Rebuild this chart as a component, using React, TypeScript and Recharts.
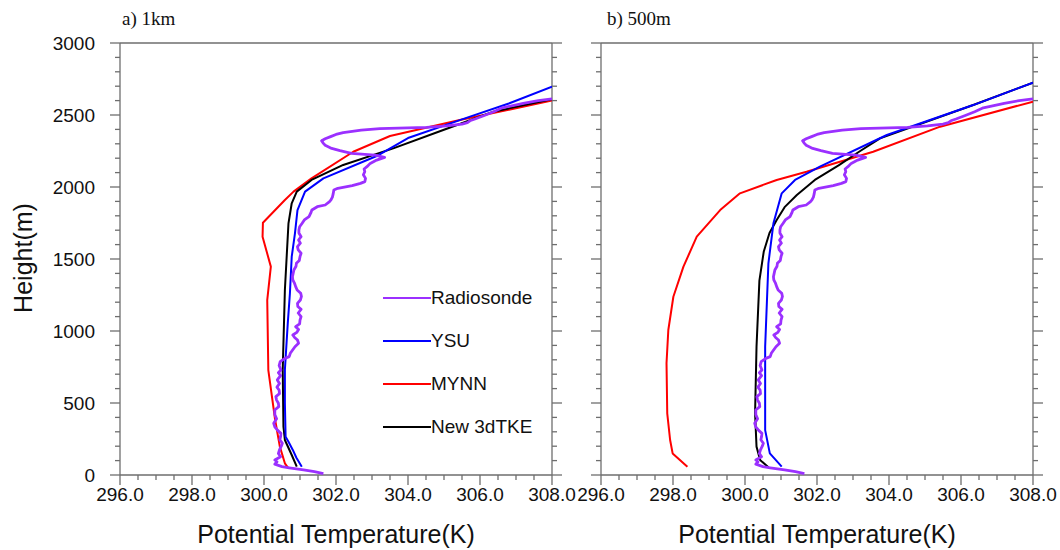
import { ScatterChart, Scatter, XAxis, YAxis, Legend } from "recharts";

const AXIS = "#6e6e6e";
const SANS = '"Liberation Sans", Arial, Helvetica, sans-serif';
const SERIF = '"Liberation Serif", "Times New Roman", serif';

const PURPLE = "#9b30ff";
const BLUE = "#0000ff";
const RED = "#ff0000";
const BLACK = "#000000";

const NAMES = ["Radiosonde", "YSU", "MYNN", "New 3dTKE"];

const X_TICKS = [
  296, 296.5, 297, 297.5, 298, 298.5, 299, 299.5, 300, 300.5, 301, 301.5, 302,
  302.5, 303, 303.5, 304, 304.5, 305, 305.5, 306, 306.5, 307, 307.5, 308,
];
const Y_TICKS = [
  0, 100, 200, 300, 400, 500, 600, 700, 800, 900, 1000, 1100, 1200, 1300, 1400,
  1500, 1600, 1700, 1800, 1900, 2000, 2100, 2200, 2300, 2400, 2500, 2600, 2700,
  2800, 2900, 3000,
];

// radiosonde profile (height m, potential temperature K)
const SONDE = [
  { h: 10, t: 301.65 }, { h: 23, t: 301.4 }, { h: 35, t: 301.1 },
  { h: 50, t: 300.7 }, { h: 58, t: 300.5 }, { h: 75, t: 300.3 },
  { h: 92, t: 300.36 }, { h: 104, t: 300.3 }, { h: 127, t: 300.46 },
  { h: 150, t: 300.4 }, { h: 174, t: 300.43 }, { h: 200, t: 300.48 },
  { h: 220, t: 300.51 }, { h: 245, t: 300.44 }, { h: 266, t: 300.46 },
  { h: 289, t: 300.47 }, { h: 310, t: 300.38 }, { h: 335, t: 300.3 },
  { h: 359, t: 300.27 }, { h: 390, t: 300.35 }, { h: 420, t: 300.3 },
  { h: 451, t: 300.3 }, { h: 475, t: 300.41 }, { h: 498, t: 300.4 },
  { h: 520, t: 300.35 }, { h: 544, t: 300.33 }, { h: 565, t: 300.43 },
  { h: 590, t: 300.42 }, { h: 610, t: 300.36 }, { h: 635, t: 300.43 },
  { h: 660, t: 300.37 }, { h: 690, t: 300.46 }, { h: 710, t: 300.4 },
  { h: 729, t: 300.47 }, { h: 760, t: 300.42 }, { h: 787, t: 300.45 },
  { h: 800, t: 300.52 }, { h: 810, t: 300.58 }, { h: 822, t: 300.7 },
  { h: 845, t: 300.73 }, { h: 870, t: 300.8 }, { h: 891, t: 300.86 },
  { h: 915, t: 300.96 }, { h: 937, t: 300.93 }, { h: 955, t: 300.85 },
  { h: 972, t: 300.8 }, { h: 990, t: 300.91 }, { h: 1010, t: 300.96 },
  { h: 1030, t: 300.88 }, { h: 1050, t: 300.99 }, { h: 1075, t: 301.0 },
  { h: 1100, t: 301.03 }, { h: 1125, t: 300.95 }, { h: 1150, t: 301.03 },
  { h: 1170, t: 300.94 }, { h: 1192, t: 300.93 }, { h: 1215, t: 301.01 },
  { h: 1240, t: 301.04 }, { h: 1262, t: 301.02 }, { h: 1285, t: 300.92 },
  { h: 1308, t: 300.88 }, { h: 1330, t: 300.85 }, { h: 1355, t: 300.8 },
  { h: 1377, t: 300.79 }, { h: 1400, t: 300.81 }, { h: 1424, t: 300.83 },
  { h: 1450, t: 300.89 }, { h: 1470, t: 300.9 }, { h: 1490, t: 300.98 },
  { h: 1516, t: 301.0 }, { h: 1540, t: 301.03 }, { h: 1563, t: 300.95 },
  { h: 1586, t: 300.93 }, { h: 1610, t: 301.01 }, { h: 1632, t: 300.96 },
  { h: 1655, t: 301.03 }, { h: 1680, t: 300.97 }, { h: 1701, t: 300.97 },
  { h: 1724, t: 300.99 }, { h: 1748, t: 301.06 }, { h: 1771, t: 301.12 },
  { h: 1794, t: 301.25 }, { h: 1820, t: 301.3 }, { h: 1840, t: 301.33 },
  { h: 1863, t: 301.48 }, { h: 1875, t: 301.7 }, { h: 1898, t: 301.82 },
  { h: 1910, t: 301.86 }, { h: 1930, t: 301.9 }, { h: 1950, t: 301.92 },
  { h: 1979, t: 301.94 }, { h: 1991, t: 302.05 }, { h: 2010, t: 302.45 },
  { h: 2025, t: 302.68 }, { h: 2037, t: 302.8 }, { h: 2060, t: 302.82 },
  { h: 2085, t: 302.76 }, { h: 2106, t: 302.8 }, { h: 2125, t: 302.78 },
  { h: 2141, t: 302.86 }, { h: 2164, t: 302.95 }, { h: 2187, t: 303.13 },
  { h: 2206, t: 303.35 }, { h: 2215, t: 303.2 }, { h: 2222, t: 303.08 },
  { h: 2234, t: 302.43 }, { h: 2252, t: 302.11 }, { h: 2268, t: 301.88 },
  { h: 2290, t: 301.7 }, { h: 2303, t: 301.65 }, { h: 2321, t: 301.6 },
  { h: 2335, t: 301.7 }, { h: 2350, t: 301.85 }, { h: 2365, t: 302.0 },
  { h: 2378, t: 302.2 }, { h: 2395, t: 302.7 }, { h: 2406, t: 303.22 },
  { h: 2414, t: 304.52 }, { h: 2424, t: 305.07 }, { h: 2436, t: 305.5 },
  { h: 2447, t: 305.65 }, { h: 2460, t: 305.72 }, { h: 2472, t: 305.86 },
  { h: 2495, t: 306.1 }, { h: 2523, t: 306.38 }, { h: 2550, t: 306.62 },
  { h: 2581, t: 307.2 }, { h: 2600, t: 307.62 }, { h: 2612, t: 308.0 },
];

// a) 1km run
const YSU_1KM = [
  { h: 58, t: 301.05 }, { h: 120, t: 300.9 }, { h: 174, t: 300.8 },
  { h: 231, t: 300.68 }, { h: 266, t: 300.6 }, { h: 500, t: 300.58 },
  { h: 729, t: 300.58 }, { h: 1053, t: 300.66 }, { h: 1262, t: 300.72 },
  { h: 1516, t: 300.77 }, { h: 1678, t: 300.86 }, { h: 1840, t: 300.93 },
  { h: 1968, t: 301.14 }, { h: 2060, t: 301.65 }, { h: 2215, t: 303.13 },
  { h: 2340, t: 304.0 }, { h: 2470, t: 305.5 }, { h: 2580, t: 306.8 },
  { h: 2697, t: 308.0 },
];
const MYNN_1KM = [
  { h: 46, t: 300.68 }, { h: 81, t: 300.58 }, { h: 197, t: 300.44 },
  { h: 382, t: 300.31 }, { h: 729, t: 300.12 }, { h: 1215, t: 300.09 },
  { h: 1447, t: 300.19 }, { h: 1655, t: 299.96 }, { h: 1752, t: 299.97 },
  { h: 1910, t: 300.58 }, { h: 1968, t: 300.82 }, { h: 2060, t: 301.32 },
  { h: 2245, t: 302.48 }, { h: 2354, t: 303.5 }, { h: 2465, t: 305.44 },
  { h: 2600, t: 308.0 },
];
const TKE_1KM = [
  { h: 58, t: 300.91 }, { h: 139, t: 300.77 }, { h: 243, t: 300.58 },
  { h: 335, t: 300.54 }, { h: 729, t: 300.52 }, { h: 1285, t: 300.58 },
  { h: 1748, t: 300.68 }, { h: 1887, t: 300.77 }, { h: 1968, t: 300.91 },
  { h: 2049, t: 301.32 }, { h: 2153, t: 302.2 }, { h: 2268, t: 303.59 },
  { h: 2396, t: 304.98 }, { h: 2523, t: 306.37 }, { h: 2609, t: 308.0 },
];

// b) 500m run
const YSU_500M = [
  { h: 58, t: 301.02 }, { h: 150, t: 300.69 }, { h: 312, t: 300.56 },
  { h: 891, t: 300.56 }, { h: 1470, t: 300.65 }, { h: 1748, t: 300.79 },
  { h: 1956, t: 301.02 }, { h: 2049, t: 301.39 }, { h: 2141, t: 302.08 },
  { h: 2361, t: 303.94 }, { h: 2569, t: 306.34 }, { h: 2725, t: 308.0 },
];
const MYNN_500M = [
  { h: 58, t: 298.4 }, { h: 150, t: 297.99 }, { h: 243, t: 297.92 },
  { h: 428, t: 297.84 }, { h: 776, t: 297.82 }, { h: 1007, t: 297.87 },
  { h: 1238, t: 298.01 }, { h: 1447, t: 298.29 }, { h: 1655, t: 298.66 },
  { h: 1840, t: 299.31 }, { h: 1956, t: 299.86 }, { h: 2049, t: 300.88 },
  { h: 2106, t: 301.71 }, { h: 2245, t: 303.56 }, { h: 2419, t: 305.42 },
  { h: 2593, t: 308.0 },
];
const TKE_500M = [
  { h: 53, t: 300.65 }, { h: 104, t: 300.42 }, { h: 197, t: 300.32 },
  { h: 428, t: 300.28 }, { h: 891, t: 300.32 }, { h: 1350, t: 300.4 },
  { h: 1550, t: 300.52 }, { h: 1680, t: 300.68 }, { h: 1771, t: 300.88 },
  { h: 1860, t: 301.1 }, { h: 1944, t: 301.44 }, { h: 2049, t: 301.94 },
  { h: 2150, t: 302.6 }, { h: 2250, t: 303.2 }, { h: 2338, t: 303.75 },
  { h: 2569, t: 306.34 }, { h: 2725, t: 308.0 },
];

const noDot = () => <g />;

function BottomTick({ x, y, payload }: any) {
  const v = payload.value as number;
  const major = v % 2 === 0;
  return (
    <g>
      <line x1={x} x2={x} y1={y} y2={y + (major ? 10 : 5)} stroke={AXIS} strokeWidth={1.3} />
      {major && (
        <text x={x} y={y + 26} textAnchor="middle" fontSize={19} fontFamily={SANS} fill="#111">
          {v.toFixed(1)}
        </text>
      )}
    </g>
  );
}

function TopTick({ x, y, payload }: any) {
  const major = (payload.value as number) % 2 === 0;
  return <line x1={x} x2={x} y1={y} y2={y - (major ? 10 : 5)} stroke={AXIS} strokeWidth={1.3} />;
}

function makeLeftTick(labels: boolean) {
  return ({ x, y, payload }: any) => {
    const v = payload.value as number;
    const major = v % 500 === 0;
    return (
      <g>
        <line x1={x} x2={x - (major ? 10 : 5)} y1={y} y2={y} stroke={AXIS} strokeWidth={1.3} />
        {labels && major && (
          <text x={x - 25} y={y} dy="0.36em" textAnchor="end" fontSize={19} fontFamily={SANS} fill="#111">
            {v}
          </text>
        )}
      </g>
    );
  };
}

function RightTick({ x, y, payload }: any) {
  const major = (payload.value as number) % 500 === 0;
  return <line x1={x} x2={x + (major ? 10 : 5)} y1={y} y2={y} stroke={AXIS} strokeWidth={1.3} />;
}

function LegendBox({ payload }: any) {
  const items = [...(payload ?? [])].sort(
    (a: any, b: any) => NAMES.indexOf(a.value) - NAMES.indexOf(b.value)
  );
  return (
    <div>
      {items.map((it: any) => (
        <div key={it.value} style={{ display: "flex", alignItems: "center", height: 43 }}>
          <svg width={48} height={4} style={{ display: "block" }}>
            <line x1={0} x2={48} y1={2} y2={2} stroke={it.color} strokeWidth={2} />
          </svg>
          <span style={{ fontFamily: SANS, fontSize: 19, color: "#111", lineHeight: "19px" }}>
            {it.value}
          </span>
        </div>
      ))}
    </div>
  );
}

interface PanelProps {
  left: number;
  width: number;
  yWidth: number;
  title: string;
  titleDx: number;
  first: boolean;
  ysu: { h: number; t: number }[];
  mynn: { h: number; t: number }[];
  tke: { h: number; t: number }[];
}

function Panel({ left, width, yWidth, title, titleDx, first, ysu, mynn, tke }: PanelProps) {
  return (
    <div style={{ position: "absolute", left, top: 0 }}>
      <ScatterChart width={width} height={550} margin={{ top: 30, right: 0, bottom: 0, left: 0 }}>
        <XAxis
          xAxisId="b"
          type="number"
          dataKey="t"
          domain={[296, 308]}
          ticks={X_TICKS}
          interval={0}
          allowDataOverflow
          height={75}
          tickSize={0}
          tickMargin={0}
          axisLine={{ stroke: AXIS, strokeWidth: 1.3 }}
          tick={BottomTick}
          label={() => (
            <text
              x={yWidth + 216}
              y={543}
              textAnchor="middle"
              fontSize={25}
              fontFamily={SANS}
              fill="#111"
            >
              Potential Temperature(K)
            </text>
          )}
        />
        <XAxis
          xAxisId="t"
          orientation="top"
          type="number"
          domain={[296, 308]}
          ticks={X_TICKS}
          interval={0}
          allowDataOverflow
          height={13}
          tickSize={0}
          tickMargin={0}
          axisLine={{ stroke: AXIS, strokeWidth: 1.3 }}
          tick={TopTick}
          label={() => (
            <text x={yWidth + titleDx} y={25} fontSize={19} fontFamily={SERIF} fill="#111">
              {title}
            </text>
          )}
        />
        <YAxis
          yAxisId="l"
          type="number"
          dataKey="h"
          domain={[0, 3000]}
          ticks={Y_TICKS}
          interval={0}
          allowDataOverflow
          width={yWidth}
          tickSize={0}
          tickMargin={0}
          axisLine={{ stroke: AXIS, strokeWidth: 1.3 }}
          tick={makeLeftTick(first)}
          label={
            first
              ? () => (
                  <text
                    x={32}
                    y={258}
                    transform="rotate(-90, 32, 258)"
                    textAnchor="middle"
                    fontSize={25}
                    fontFamily={SANS}
                    fill="#111"
                  >
                    Height(m)
                  </text>
                )
              : undefined
          }
        />
        <YAxis
          yAxisId="r"
          orientation="right"
          type="number"
          domain={[0, 3000]}
          ticks={Y_TICKS}
          interval={0}
          allowDataOverflow
          width={width - yWidth - 432}
          tickSize={0}
          tickMargin={0}
          axisLine={{ stroke: AXIS, strokeWidth: 1.3 }}
          tick={RightTick}
        />
        <Scatter
          name="MYNN"
          data={mynn}
          xAxisId="b"
          yAxisId="l"
          fill={RED}
          line={{ stroke: RED, strokeWidth: 2, strokeLinejoin: "round" }}
          shape={noDot}
          isAnimationActive={false}
        />
        <Scatter
          name="New 3dTKE"
          data={tke}
          xAxisId="b"
          yAxisId="l"
          fill={BLACK}
          line={{ stroke: BLACK, strokeWidth: 2, strokeLinejoin: "round" }}
          shape={noDot}
          isAnimationActive={false}
        />
        <Scatter
          name="YSU"
          data={ysu}
          xAxisId="b"
          yAxisId="l"
          fill={BLUE}
          line={{ stroke: BLUE, strokeWidth: 2, strokeLinejoin: "round" }}
          shape={noDot}
          isAnimationActive={false}
        />
        <Scatter
          name="Radiosonde"
          data={SONDE}
          xAxisId="b"
          yAxisId="l"
          fill={PURPLE}
          line={{ stroke: PURPLE, strokeWidth: 2.8, strokeLinejoin: "round" }}
          shape={noDot}
          isAnimationActive={false}
        />
        {first && (
          <Legend
            layout="vertical"
            align="center"
            verticalAlign="middle"
            wrapperStyle={{ left: 383, top: 276, width: 180 }}
            content={LegendBox}
          />
        )}
      </ScatterChart>
    </div>
  );
}

export default function App() {
  return (
    <div style={{ position: "absolute", left: 0, top: 0, width: 1060, height: 550, background: "#fff" }}>
      <Panel
        left={0}
        width={580}
        yWidth={120}
        title="a) 1km"
        titleDx={2}
        first
        ysu={YSU_1KM}
        mynn={MYNN_1KM}
        tke={TKE_1KM}
      />
      <Panel
        left={561}
        width={499}
        yWidth={40}
        title="b) 500m"
        titleDx={6}
        first={false}
        ysu={YSU_500M}
        mynn={MYNN_500M}
        tke={TKE_500M}
      />
    </div>
  );
}
